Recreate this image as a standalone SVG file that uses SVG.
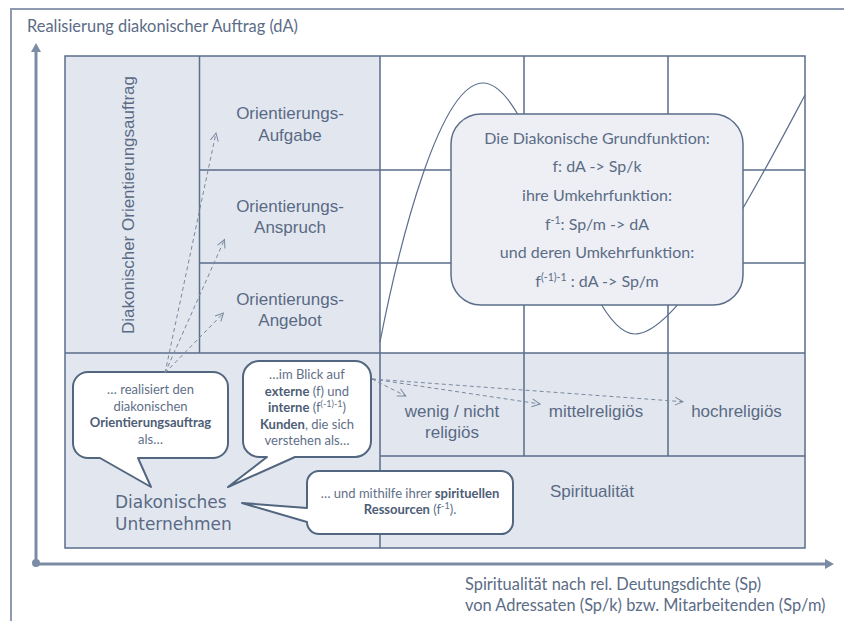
<svg xmlns="http://www.w3.org/2000/svg" width="844" height="621" viewBox="0 0 844 621">
<defs>
<style>
.frame{fill:none;stroke:#8d9ab0;stroke-width:2}
.axis{stroke:#7d8ca5;stroke-width:3;fill:none}
.axh{fill:#7d8ca5}
.cellf{fill:#e2e7ef;stroke:none}
.grid{stroke:#5b6e8b;stroke-width:1.5;fill:none}
.curve{stroke:#5b6e8b;stroke-width:1.2;fill:none}
.lbl{font-family:"Liberation Sans",Arial,sans-serif;font-size:17px;fill:#5a6a85;text-anchor:middle}
.cal{font-family:Lato,"Open Sans",sans-serif;font-size:13px;fill:#5f6f88;text-anchor:middle}
.b{font-weight:bold;fill:#4d5d76}
.bubble{fill:#fff;stroke:#52667f;stroke-width:2;stroke-linejoin:round}
.dash{stroke:#7a89a0;stroke-width:1;stroke-dasharray:4 3;fill:none;marker-end:url(#ah)}
.ax{font-family:Lato,"Open Sans",sans-serif;font-size:16.4px;fill:#5b6c86}
.fn{font-family:Lato,"Open Sans",sans-serif;font-size:16px;fill:#5b6c86;text-anchor:middle}
.du{font-family:"DejaVu Sans",sans-serif;font-size:17px;fill:#5a6a85}
.box{fill:#edeff5;stroke:#5b6e8b;stroke-width:1.5}
</style>
<marker id="ah" viewBox="0 0 10 10" refX="9" refY="5" markerWidth="10" markerHeight="10" markerUnits="userSpaceOnUse" orient="auto"><path d="M1,1 L9,5 L1,9" fill="none" stroke="#7a89a0" stroke-width="1"/></marker>
</defs>

<g id="frame">
<path class="frame" d="M11,621 V9 H844"/>
</g>

<g id="axes">
<line class="axis" x1="36" y1="563" x2="36" y2="50"/>
<polygon class="axh" points="36,43 31,52 41,52"/>
<circle cx="36" cy="563" r="4" class="axh"/>
<line class="axis" x1="36" y1="564" x2="826" y2="564"/>
<polygon class="axh" points="834,564 825,559 825,569"/>
<text class="ax" x="27" y="32">Realisierung diakonischer Auftrag (dA)</text>
<text class="ax" x="465" y="590">Spiritualität nach rel. Deutungsdichte (Sp)<tspan x="465" dy="21">von Adressaten (Sp/k) bzw. Mitarbeitenden (Sp/m)</tspan></text>
</g>

<g id="grid">
<rect class="cellf" x="65" y="56" width="315" height="297"/>
<rect class="cellf" x="65" y="353" width="740" height="195"/>
<rect class="grid" x="65" y="56" width="740" height="492"/>
<path class="grid" d="M199.5,56 V353 M380,56 V548 M524,56 V456 M668,56 V456 M199.5,170 H805 M199.5,263 H805 M65,353 H805 M380,456 H805"/>
</g>

<g id="curve">
<path class="curve" d="M380,342 C400,240 440,83 483,83 C538,83 580,334 635,334 C680,334 760,180 805,95"/>
</g>

<g id="cell-labels">
<text class="lbl" transform="translate(134,205) rotate(-90)">Diakonischer Orientierungsauftrag</text>
<text class="lbl" x="290" y="119">Orientierungs-<tspan x="290" dy="22">Aufgabe</tspan></text>
<text class="lbl" x="290" y="212">Orientierungs-<tspan x="290" dy="21">Anspruch</tspan></text>
<text class="lbl" x="290" y="305">Orientierungs-<tspan x="290" dy="21">Angebot</tspan></text>
<text class="lbl" x="452" y="417">wenig / nicht<tspan x="452" dy="21">religiös</tspan></text>
<text class="lbl" x="596" y="417">mittelreligiös</text>
<text class="lbl" x="736.5" y="417">hochreligiös</text>
<text class="lbl" x="592" y="497">Spiritualität</text>
</g>

<g id="grundfunktion">
<rect class="box" x="451" y="114" width="292" height="191" rx="30" ry="30"/>
<text class="fn" x="597" y="144">Die Diakonische Grundfunktion:</text>
<text class="fn" x="597" y="172">f: dA -&gt; Sp/k</text>
<text class="fn" x="597" y="201">ihre Umkehrfunktion:</text>
<text class="fn" x="597" y="230">f<tspan font-size="10.5" dy="-6">-1</tspan><tspan dy="6">: Sp/m -&gt; dA</tspan></text>
<text class="fn" x="597" y="258">und deren Umkehrfunktion:</text>
<text class="fn" x="597" y="287">f<tspan font-size="10.5" dy="-6">(-1)-1</tspan><tspan dy="6"> : dA -&gt; Sp/m</tspan></text>
</g>

<g id="unternehmen">
<text class="du" x="115" y="508">Diakonisches<tspan x="115" dy="21.5">Unternehmen</tspan></text>
</g>

<g id="callout-auftrag">
<path class="bubble" d="M88,372 H213 A15,15 0 0 1 228,387 V443 A15,15 0 0 1 213,458 H138 L151,487 L100,458 H88 A15,15 0 0 1 73,443 V387 A15,15 0 0 1 88,372 Z"/>
<text class="cal" x="150.5" y="394">… realisiert den<tspan x="150.5" dy="16.7">diakonischen</tspan><tspan x="150.5" dy="16.7" class="b">Orientierungsauftrag</tspan><tspan x="150.5" dy="16.7">als…</tspan></text>
</g>

<g id="callout-kunden">
<path class="bubble" d="M259,361 H355 A16,16 0 0 1 371,377 V441 A16,16 0 0 1 355,457 H295 L228,487 L267,457 H259 A16,16 0 0 1 243,441 V377 A16,16 0 0 1 259,361 Z"/>
<text class="cal" x="307" y="379">…im Blick auf</text>
<text class="cal" x="307" y="396"><tspan class="b">externe</tspan> (f) und</text>
<text class="cal" x="307" y="412"><tspan class="b">interne</tspan> (f<tspan font-size="9" dy="-5">(-1)-1</tspan><tspan dy="5">)</tspan></text>
<text class="cal" x="307" y="429"><tspan class="b">Kunden</tspan>, die sich</text>
<text class="cal" x="307" y="445">verstehen als…</text>
</g>

<g id="callout-ressourcen">
<path class="bubble" d="M319,471 H501 A12,12 0 0 1 513,483 V522 A12,12 0 0 1 501,534 H319 A12,12 0 0 1 307,522 L242,503 L307,508 V483 A12,12 0 0 1 319,471 Z"/>
<text class="cal" x="410" y="498">… und mithilfe ihrer <tspan class="b">spirituellen</tspan></text>
<text class="cal" x="410" y="514"><tspan class="b">Ressourcen</tspan> (f<tspan font-size="9" dy="-5">-1</tspan><tspan dy="5">).</tspan></text>
</g>

<g id="connectors">
<path class="dash" d="M165,373 L216,133"/>
<path class="dash" d="M165,373 L224.5,239.5"/>
<path class="dash" d="M165,373 L223.5,313"/>
<path class="dash" d="M372,379 L405.7,396"/>
<path class="dash" d="M372,379 L540,404"/>
<path class="dash" d="M372,379 L683,401.7"/>
</g>
</svg>
